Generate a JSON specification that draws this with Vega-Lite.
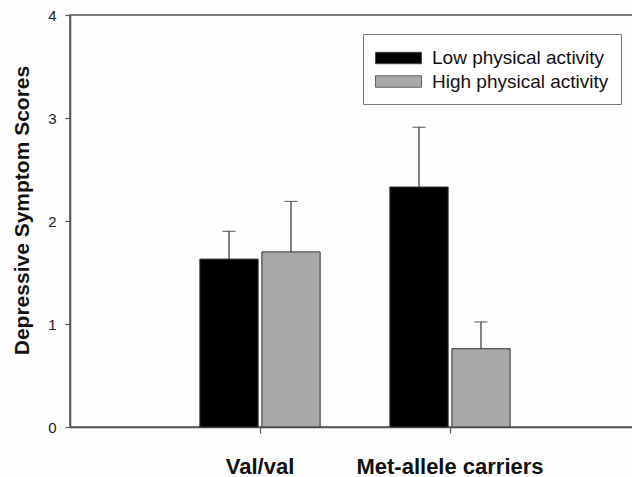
{
  "$schema": "https://vega.github.io/schema/vega-lite/v6.json",
  "autosize": "none",
  "width": 570,
  "height": 412,
  "padding": {"left": 70, "top": 15, "right": 0, "bottom": 50},
  "background": "#fdfdfd",
  "config": {
    "font": "Liberation Sans",
    "view": {"stroke": "#555", "strokeWidth": 1.5},
    "axis": {"grid": false, "domainColor": "#555", "domainWidth": 1.5, "tickColor": "#555", "tickWidth": 1.2, "tickSize": 5, "labelColor": "#222", "titleColor": "#111"}
  },
  "data": {"values": [
    {"genotype": "Val/val", "activity": "Low physical activity", "mean": 1.63, "upper": 1.90},
    {"genotype": "Val/val", "activity": "High physical activity", "mean": 1.70, "upper": 2.19},
    {"genotype": "Met-allele carriers", "activity": "Low physical activity", "mean": 2.33, "upper": 2.91},
    {"genotype": "Met-allele carriers", "activity": "High physical activity", "mean": 0.76, "upper": 1.02}
  ]},
  "encoding": {
    "x": {"field": "genotype", "type": "nominal", "sort": ["Val/val", "Met-allele carriers"],
      "scale": {"paddingInner": 0.367, "paddingOuter": 0.6835, "align": 0.5},
      "axis": {"title": null, "labelAngle": 0, "bandPosition": 0.5, "labelFontSize": 22, "labelFontWeight": "bold", "labelColor": "#111", "labelPadding": 23, "labelLimit": 400, "tickSize": 6}},
    "xOffset": {"field": "activity", "type": "nominal", "sort": ["Low physical activity", "High physical activity"],
      "scale": {"paddingInner": 0.06, "paddingOuter": 0}}
  },
  "layer": [
    {
      "mark": {"type": "bar", "stroke": "#333", "strokeWidth": 1},
      "encoding": {
        "y": {"field": "mean", "type": "quantitative",
          "scale": {"domain": [0, 4], "nice": false},
          "axis": {"values": [0, 1, 2, 3, 4], "format": "d", "title": "Depressive Symptom Scores", "titleFontSize": 21, "titleFontWeight": "bold", "titlePadding": 15, "titleY": 195, "labelFontSize": 15, "labelPadding": 9}},
        "color": {"field": "activity", "type": "nominal", "sort": ["Low physical activity", "High physical activity"],
          "scale": {"domain": ["Low physical activity", "High physical activity"], "range": ["#000000", "#a8a8a8"]},
          "legend": {"title": null, "orient": "none", "legendX": 293, "legendY": 19,
            "symbolType": "M-1,-0.5H3V0.5H-1Z", "symbolSize": 529, "symbolStrokeColor": "#444", "symbolStrokeWidth": 0.8,
            "labelFontSize": 19, "labelColor": "#111", "labelOffset": 33, "labelLimit": 400, "rowPadding": 1.5,
            "padding": 12, "strokeColor": "#777", "fillColor": "#ffffff"}}
      }
    },
    {
      "mark": {"type": "rule", "color": "#333", "strokeWidth": 1.2},
      "encoding": {"y": {"field": "upper", "type": "quantitative"}, "y2": {"field": "mean"}}
    },
    {
      "mark": {"type": "tick", "color": "#333", "thickness": 1.2, "size": 13},
      "encoding": {"y": {"field": "upper", "type": "quantitative"}}
    }
  ]
}
